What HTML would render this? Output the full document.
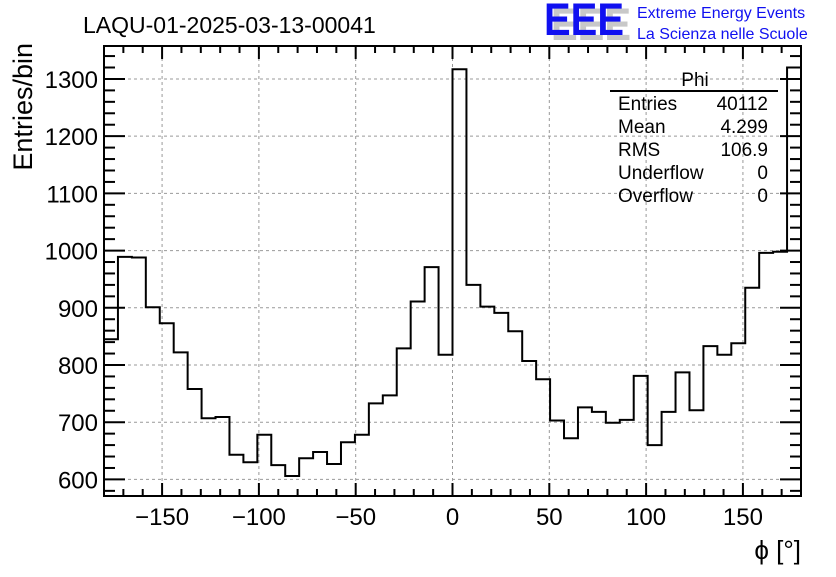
<!DOCTYPE html>
<html><head><meta charset="utf-8"><style>
body{margin:0;background:#fff;}
svg text{font-family:"Liberation Sans",sans-serif;}
</style></head><body>
<svg id="chart" width="836" height="572" viewBox="0 0 836 572" xmlns="http://www.w3.org/2000/svg">
<rect width="836" height="572" fill="#fff"/>
<text x="83" y="33" font-size="23">LAQU-01-2025-03-13-00041</text>
<g>
<text x="551" y="40" font-size="45" font-weight="bold" fill="#c8c8c8" textLength="80" lengthAdjust="spacingAndGlyphs">EEE</text>
<text x="544" y="35" font-size="45" font-weight="bold" fill="#1010f0" textLength="80" lengthAdjust="spacingAndGlyphs">EEE</text>
<text x="637" y="18" font-size="16" fill="#1010f0">Extreme Energy Events</text>
<text x="637" y="39" font-size="16" fill="#1010f0">La Scienza nelle Scuole</text>
</g>
<g id="grid"></g>
<g id="axes"></g>
<path id="hist" fill="none" stroke="#000" stroke-width="2"/>
<rect x="104" y="46" width="697" height="450" fill="none" stroke="#000" stroke-width="2"/>
<g font-size="19">
<text x="695" y="86" text-anchor="middle">Phi</text>
<line x1="610" y1="91" x2="778" y2="91" stroke="#000" stroke-width="2"/>
<text x="618" y="110">Entries</text><text x="768" y="110" text-anchor="end">40112</text>
<text x="618" y="133">Mean</text><text x="768" y="133" text-anchor="end">4.299</text>
<text x="618" y="156">RMS</text><text x="768" y="156" text-anchor="end">106.9</text>
<text x="618" y="179">Underflow</text><text x="768" y="179" text-anchor="end">0</text>
<text x="618" y="202">Overflow</text><text x="768" y="202" text-anchor="end">0</text>
</g>
<text transform="translate(32,43) rotate(-90)" font-size="27" text-anchor="end">Entries/bin</text>
<text x="801" y="559" font-size="26" text-anchor="end">ϕ [°]</text>
</svg>
<script>
const binCounts=[845,989,988,901,873,822,758,707,709,643,630,678,625,606,637,648,627,665,678,733,747,829,911,971,818,1317,940,902,891,859,807,775,703,672,726,718,699,704,781,660,718,787,721,833,818,838,935,996,998,1320];
const xTicks=[-150,-100,-50,0,50,100,150];
const yTicks=[600,700,800,900,1000,1100,1200,1300];
const xMin=-180,xMax=180,yMin=571,yMax=1357.6;
const L=104,R=801,T=46,B=496;
const sx=v=>L+(v-xMin)/(xMax-xMin)*(R-L);
const sy=v=>B-(v-yMin)/(yMax-yMin)*(B-T);
const NS='http://www.w3.org/2000/svg';
function mk(tag,attrs,parent){const e=document.createElementNS(NS,tag);for(const k in attrs)e.setAttribute(k,attrs[k]);parent.appendChild(e);return e;}
const grid=document.getElementById('grid'),axes=document.getElementById('axes');
xTicks.forEach(t=>{
  const g=mk('line',{x1:sx(t),x2:sx(t),y1:T,y2:B,stroke:'#999','stroke-dasharray':'3,3','stroke-width':1},grid);
  
  
  const lb=mk('text',{x:sx(t),y:525,'font-size':24,'text-anchor':'middle'},axes);
  lb.textContent=t<0?'\u2212'+Math.abs(t):String(t);
  
  
});
yTicks.forEach(t=>{
  const g=mk('line',{x1:L,x2:R,y1:sy(t),y2:sy(t),stroke:'#999','stroke-dasharray':'3,3','stroke-width':1},grid);
  
  
  const lb=mk('text',{x:98,y:sy(t)+9,'font-size':24,'text-anchor':'end'},axes);
  lb.textContent=String(t);
  
  
});
for(let v=-180;v<=180;v+=10){
  const major=v%50===0,len=major?13:7;
  mk('line',{x1:sx(v),x2:sx(v),y1:B,y2:B-len,stroke:'#000','stroke-width':2},axes);
  mk('line',{x1:sx(v),x2:sx(v),y1:T,y2:T+len,stroke:'#000','stroke-width':2},axes);
}
for(let v=580;v<=1340;v+=20){
  const major=v%100===0,len=major?21:11;
  mk('line',{x1:L,x2:L+len,y1:sy(v),y2:sy(v),stroke:'#000','stroke-width':2},axes);
  mk('line',{x1:R,x2:R-len,y1:sy(v),y2:sy(v),stroke:'#000','stroke-width':2},axes);
}
const w=(xMax-xMin)/binCounts.length;
let d='';
binCounts.forEach((c,i)=>{
  const y=Math.max(T,sy(c));
  const x0=sx(xMin+i*w),x1=sx(xMin+(i+1)*w);
  d+=(i===0?'M'+x0+','+y:'L'+x0+','+y)+'L'+x1+','+y;
});
document.getElementById('hist').setAttribute('d',d);
</script>
</body></html>
